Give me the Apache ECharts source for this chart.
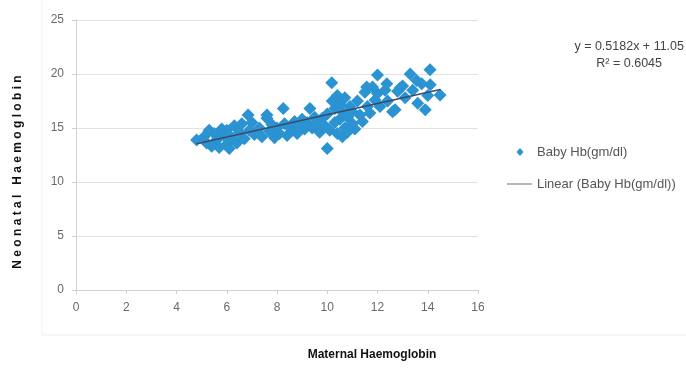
<!DOCTYPE html>
<html>
<head>
<meta charset="utf-8">
<script src="https://cdn.jsdelivr.net/npm/echarts@6/dist/echarts.min.js"></script>
<style>
  html, body { margin: 0; padding: 0; background: #fff; }
  #chart { width: 686px; height: 368px; }
</style>
</head>
<body>
<div id="chart"></div>
<script>
// maternal Hb (x) vs baby Hb (y)
const points = [
  [4.8, 13.9], [5.1, 14.2], [5.2, 13.6], [5.3, 14.8], [5.4, 13.3], [5.5, 14.5],
  [5.6, 13.9], [5.7, 13.2], [5.8, 14.9], [5.9, 14.3], [6.0, 13.5], [6.0, 14.8],
  [6.1, 13.1], [6.2, 14.1], [6.3, 15.2], [6.4, 13.6], [6.5, 14.6], [6.6, 15.4],
  [6.7, 14.0], [6.85, 16.2], [6.9, 14.8], [7.0, 15.5], [7.1, 14.4], [7.3, 15.0],
  [7.4, 14.2], [7.6, 15.9], [7.6, 16.2], [7.7, 14.7], [7.8, 15.3], [7.9, 14.1],
  [8.0, 15.0], [8.1, 14.5], [8.25, 16.8], [8.3, 15.4], [8.4, 14.3], [8.5, 15.1],
  [8.6, 14.8], [8.7, 15.6], [8.8, 14.5], [8.9, 15.2], [9.0, 15.8], [9.1, 14.9],
  [9.2, 15.5], [9.31, 16.8], [9.4, 15.0], [9.5, 16.0], [9.6, 15.3], [9.7, 14.6],
  [9.8, 15.9], [9.9, 15.2], [10.0, 13.1], [10.0, 16.3], [10.1, 14.8], [10.18, 19.2],
  [10.2, 17.5], [10.3, 15.5], [10.3, 16.8], [10.4, 14.5], [10.4, 18.0], [10.5, 15.8],
  [10.5, 17.2], [10.6, 14.2], [10.6, 16.5], [10.7, 15.0], [10.7, 17.8], [10.8, 16.0],
  [10.8, 14.6], [10.9, 17.0], [11.0, 15.4], [11.0, 16.5], [11.1, 14.9], [11.2, 17.5],
  [11.3, 16.2], [11.4, 15.6], [11.5, 18.3], [11.57, 18.8], [11.6, 17.0], [11.7, 16.4],
  [11.8, 18.8], [11.9, 17.6], [12.0, 19.9], [12.0, 18.2], [12.1, 17.0], [12.3, 18.5],
  [12.37, 19.1], [12.4, 17.5], [12.6, 16.5], [12.7, 16.7], [12.8, 18.4], [12.9, 18.7],
  [13.0, 18.9], [13.1, 17.8], [13.3, 20.0], [13.4, 18.5], [13.56, 19.4], [13.6, 17.3],
  [13.76, 19.1], [13.9, 16.7], [14.0, 18.0], [14.09, 20.4], [14.1, 19.0], [14.49, 18.05]
];

// trendline from the equation shown on the chart
const slope = 0.5182;
const intercept = 11.05;
const trendX = [4.8, 14.5];
const trendPoints = trendX.map(x => [x, slope * x + intercept]);

const xTicks = { min: 0, max: 16, interval: 2 };
const yTicks = { min: 0, max: 25, interval: 5 };

const chart = echarts.init(document.getElementById('chart'));

const labelStyle = { color: '#6a6a6a', fontSize: 12, fontFamily: 'Liberation Sans, Arial, sans-serif' };

chart.setOption({
  animation: false,
  backgroundColor: '#fff',
  grid: { left: 76, top: 20, width: 402, height: 270 },
  xAxis: {
    type: 'value',
    min: xTicks.min,
    max: xTicks.max,
    interval: xTicks.interval,
    axisLine: { lineStyle: { color: '#d0d0d0' } },
    axisTick: { show: true, length: 4, lineStyle: { color: '#d0d0d0' } },
    axisLabel: Object.assign({ margin: 12 }, labelStyle),
    splitLine: { show: false }
  },
  yAxis: {
    type: 'value',
    min: yTicks.min,
    max: yTicks.max,
    interval: yTicks.interval,
    axisLine: { show: true, lineStyle: { color: '#d0d0d0' } },
    axisTick: { show: true, length: 4, lineStyle: { color: '#d0d0d0' } },
    axisLabel: Object.assign({ margin: 12 }, labelStyle),
    splitLine: { lineStyle: { color: '#e2e2e2', width: 1 } }
  },
  series: [
    {
      name: 'Baby Hb(gm/dl)',
      type: 'scatter',
      symbol: 'diamond',
      symbolSize: 13,
      itemStyle: { color: '#2b93d1', opacity: 1 },
      data: points
    },
    {
      name: 'Linear (Baby Hb(gm/dl))',
      type: 'line',
      symbol: 'none',
      lineStyle: { color: '#3a4a6a', width: 1.5 },
      data: trendPoints,
      z: 3
    }
  ],
  graphic: [
    {
      type: 'rect',
      shape: { x: 42, y: -2, width: 660, height: 337 },
      style: { fill: 'none', stroke: '#f0f0f0', lineWidth: 1 },
      silent: true, z: -1
    },
    {
      type: 'text', x: 18, y: 172,
      rotation: Math.PI / 2,
      style: {
        text: 'N e o n a t a l   H a e m o g l o b i n',
        fill: '#111', font: 'bold 12px Liberation Sans, Arial, sans-serif',
        align: 'center', verticalAlign: 'middle'
      }
    },
    {
      type: 'text', x: 372, y: 355,
      style: {
        text: 'Maternal Haemoglobin', fill: '#111',
        font: 'bold 12px Liberation Sans, Arial, sans-serif',
        align: 'center', verticalAlign: 'middle'
      }
    },
    {
      type: 'text', x: 684, y: 47,
      style: {
        text: 'y = 0.5182x + 11.05', fill: '#444',
        font: '12.5px Liberation Sans, Arial, sans-serif',
        align: 'right', verticalAlign: 'middle'
      }
    },
    {
      type: 'text', x: 662, y: 64,
      style: {
        text: 'R\u00b2 = 0.6045', fill: '#444',
        font: '12.5px Liberation Sans, Arial, sans-serif',
        align: 'right', verticalAlign: 'middle'
      }
    },
    {
      type: 'polygon',
      shape: { points: [[520, 148], [523.5, 152], [520, 156], [516.5, 152]] },
      style: { fill: '#2b93d1' }
    },
    {
      type: 'text', x: 537, y: 152,
      style: {
        text: 'Baby Hb(gm/dl)', fill: '#555',
        font: '13px Liberation Sans, Arial, sans-serif',
        verticalAlign: 'middle'
      }
    },
    {
      type: 'line',
      shape: { x1: 507, y1: 184, x2: 532, y2: 184 },
      style: { stroke: '#888', lineWidth: 1.2 }
    },
    {
      type: 'text', x: 537, y: 184,
      style: {
        text: 'Linear (Baby Hb(gm/dl))', fill: '#555',
        font: '13px Liberation Sans, Arial, sans-serif',
        verticalAlign: 'middle'
      }
    }
  ]
});
</script>
</body>
</html>
